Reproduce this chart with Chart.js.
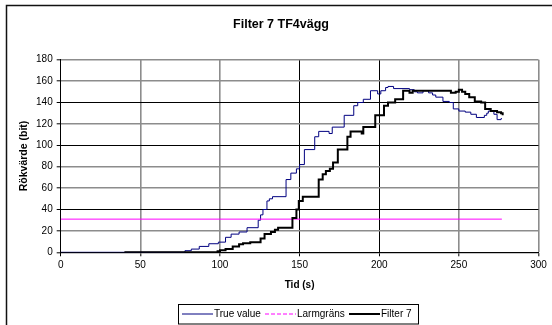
<!DOCTYPE html>
<html>
<head>
<meta charset="utf-8">
<title>Filter 7 TF4vägg</title>
<script src="https://cdn.jsdelivr.net/npm/chart.js@4/dist/chart.umd.min.js"></script>
<style>
  html, body { margin: 0; padding: 0; background: #fff; }
  #chart { display: block; }
</style>
</head>
<body>
<canvas id="chart" width="552" height="325"></canvas>
<script>
// Data (time in s, value in bit)
const chartTitle = 'Filter 7 TF4vägg';
const xTitle = 'Tid (s)';
const yTitle = 'Rökvärde (bit)';
const seriesNames = ['True value', 'Larmgräns', 'Filter 7'];

const trueTime = [0, 78, 82, 87, 93, 99, 103.5, 107, 112, 117, 124, 125.5, 127, 129.5, 131, 133,
    141.5, 144.5, 148, 150, 153, 159.5, 162, 168.5, 170.5, 178, 184, 186.5, 190, 194.5, 199, 201,
    204, 205.5, 209, 219, 222, 224, 227.5, 231, 233.5, 235.5, 240, 244, 246.5, 250, 254, 257.5,
    261, 266, 267.5, 268.5, 272, 274, 276.5, 277];
const trueValues = [0, 1.5, 3, 5.5, 8, 9.5, 14, 17, 19, 23, 30, 35, 40, 48, 50, 52,
    68, 74, 78, 82, 96, 108, 113, 111, 117, 128, 137, 140, 143, 151, 148, 151,
    154, 155, 153, 152, 150, 149, 151, 149, 147, 145, 141, 140, 134, 132, 131, 129,
    126, 128, 130, 132, 129, 124, 125, 125];

const alarmTime = [0, 277];
const alarmValues = [31, 31];

const filterTime = [40, 98.5, 100, 103.5, 108, 112, 114.5, 119, 125.5, 128, 132, 134.5, 136.5,
    145.5, 148, 149.5, 152, 162, 164.5, 166.5, 169, 171, 174, 180, 182, 189, 190, 197.5, 203,
    205.5, 210, 215, 219, 221, 245, 248, 250, 252, 254, 256.5, 260, 264, 266.5, 270, 274,
    276.5, 277.5];
const filterValues = [0, 1, 2, 3, 5.5, 7.5, 8.5, 9.5, 13, 17, 19, 21, 23,
    32, 40, 48, 52, 68, 73, 76, 78, 84, 96, 108, 113, 111, 117, 128, 137,
    140, 143, 151, 149, 151, 149, 150, 152, 150, 148, 145, 141, 140, 134, 132, 131,
    130, 128];

const xTicks = [0, 50, 100, 150, 200, 250, 300];
const yTicks = [0, 20, 40, 60, 80, 100, 120, 140, 160, 180];

function toPoints(times, values) {
    return times.map((t, i) => ({ x: t, y: values[i] }));
}

const FONT = "'Liberation Sans', Arial, sans-serif";
Chart.defaults.font.family = FONT;
Chart.defaults.font.size = 10;
Chart.defaults.color = '#000';

// Gridlines in the picture come out either crisp black or soft grey
const darkY = [40, 100, 140];
const darkX = [0, 150, 200];
function gridColor(list) {
    return ctx => list.includes(ctx.tick.value) ? '#000' : '#8c8c8c';
}
function gridWidth(list) {
    return ctx => list.includes(ctx.tick.value) ? 1 : 1.6;
}

// Title, axis titles, frame and boxed legend like the Excel original
const excelDecor = {
    id: 'excelDecor',
    beforeDraw(chart) {
        const ctx = chart.ctx;
        ctx.save();
        ctx.fillStyle = '#fff';
        ctx.fillRect(0, 0, chart.width, chart.height);
        ctx.restore();
    },
    afterDraw(chart) {
        const ctx = chart.ctx;
        const area = chart.chartArea;
        ctx.save();

        // outer frame
        ctx.strokeStyle = '#111';
        ctx.lineWidth = 1.5;
        ctx.strokeRect(6.5, 5.5, 600, 400);

        ctx.fillStyle = '#000';
        ctx.textBaseline = 'middle';
        ctx.textAlign = 'center';
        ctx.font = 'bold 12.5px ' + FONT;
        ctx.fillText(chartTitle, 281, 25);

        ctx.font = 'bold 10px ' + FONT;
        ctx.fillText(xTitle, (area.left + area.right) / 2, 285);

        ctx.save();
        ctx.translate(24.5, (area.top + area.bottom) / 2);
        ctx.rotate(-Math.PI / 2);
        ctx.font = 'bold 10.5px ' + FONT;
        ctx.fillText(yTitle, 0, 0);
        ctx.restore();

        // legend
        ctx.strokeStyle = '#000';
        ctx.lineWidth = 1;
        ctx.strokeRect(178.5, 304.5, 240, 19.5);
        const ly = 314;
        const itemX = [182, 265, 349];
        ctx.font = '10px ' + FONT;
        ctx.textAlign = 'left';
        chart.data.datasets.forEach((ds, i) => {
            const x0 = itemX[i];
            ctx.beginPath();
            ctx.strokeStyle = ds.borderColor;
            ctx.lineWidth = ds.borderWidth;
            ctx.setLineDash(ds.legendDash || []);
            ctx.moveTo(x0, ly);
            ctx.lineTo(x0 + 31, ly);
            ctx.stroke();
            ctx.setLineDash([]);
            ctx.fillStyle = '#000';
            ctx.fillText(ds.label, x0 + 32, ly);
        });
        ctx.restore();
    }
};

new Chart(document.getElementById('chart'), {
    type: 'line',
    data: {
        datasets: [
            {
                label: seriesNames[0],
                data: toPoints(trueTime, trueValues),
                borderColor: '#000080',
                borderWidth: 1,
                stepped: true,
                order: 2
            },
            {
                label: seriesNames[1],
                data: toPoints(alarmTime, alarmValues),
                borderColor: '#ff00ff',
                borderWidth: 1,
                legendDash: [4, 2],
                order: 1
            },
            {
                label: seriesNames[2],
                data: toPoints(filterTime, filterValues),
                borderColor: '#000000',
                borderWidth: 2,
                stepped: true,
                order: 0
            }
        ]
    },
    options: {
        responsive: false,
        animation: false,
        devicePixelRatio: 1,
        layout: { padding: { left: 20.7, right: 13.5, top: 59.7, bottom: 32.7 } },
        elements: { point: { radius: 0 }, line: { tension: 0, fill: false } },
        plugins: {
            legend: { display: false },
            title: { display: false },
            tooltip: { enabled: false }
        },
        scales: {
            x: {
                type: 'linear',
                min: xTicks[0],
                max: xTicks[xTicks.length - 1],
                afterBuildTicks: s => { s.ticks = xTicks.map(v => ({ value: v })); },
                afterFit: s => { s.height = 40; },
                ticks: { padding: 3, maxRotation: 0 },
                grid: { color: gridColor(darkX), lineWidth: gridWidth(darkX), tickLength: 4, tickColor: '#000', tickWidth: 1 },
                border: { color: '#000', width: 1 }
            },
            y: {
                type: 'linear',
                min: yTicks[0],
                max: yTicks[yTicks.length - 1],
                afterBuildTicks: s => { s.ticks = yTicks.map(v => ({ value: v })); },
                afterFit: s => { s.width = 40; },
                ticks: { padding: 4 },
                grid: { color: gridColor(darkY), lineWidth: gridWidth(darkY), tickLength: 4, tickColor: '#000', tickWidth: 1 },
                border: { color: '#000', width: 1 }
            }
        }
    },
    plugins: [excelDecor]
});
</script>
</body>
</html>
